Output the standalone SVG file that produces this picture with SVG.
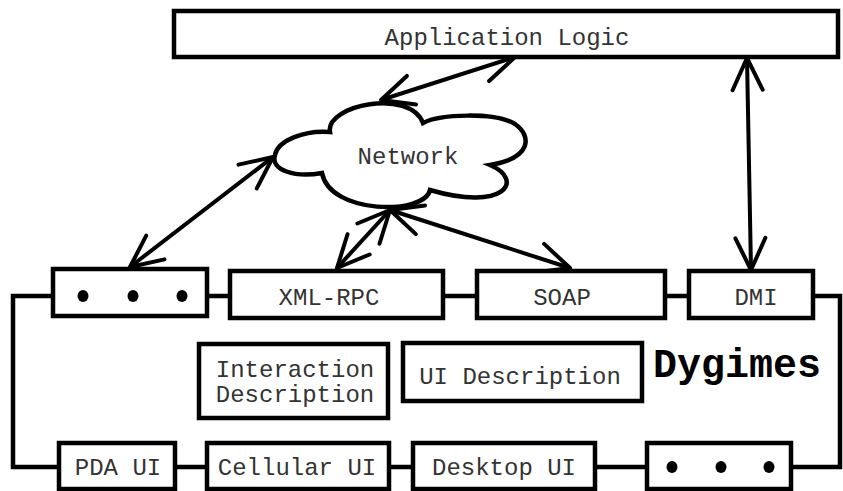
<svg xmlns="http://www.w3.org/2000/svg" width="843" height="491" viewBox="0 0 843 491">
<style>
.box{fill:#fff;stroke:#000;stroke-width:4.5}
.wire{fill:none;stroke:#000;stroke-width:4.5}
.arr{fill:none;stroke:#000;stroke-width:4;marker-start:url(#head);marker-end:url(#head)}
.t{font-family:"Liberation Mono","Courier New",monospace;font-size:24px;fill:#333;text-anchor:middle}
.dot{fill:#000}
</style>
<defs>
<marker id="head" markerUnits="userSpaceOnUse" viewBox="-3 -3 38 36" markerWidth="38" markerHeight="36" refX="32" refY="15" orient="auto-start-reverse" overflow="visible">
<path d="M0,0 L32,15 L0,30" fill="none" stroke="#000" stroke-width="4" stroke-linecap="round" stroke-linejoin="round"/>
</marker>
</defs>
<rect width="843" height="491" fill="#fff"/>
<g id="connectors">
<path class="wire" d="M53,296 H13 V467 H59 M207,296 H230 M443,296 H477 M665,296 H689 M813,296 H840 V467 H791 M175,467 H207 M389,467 H413 M595,467 H647"/>
<line class="arr" x1="515" y1="57" x2="381" y2="100"/>
<line class="arr" x1="273" y1="157" x2="130" y2="267"/>
<line class="arr" x1="390" y1="210" x2="337" y2="268"/>
<line class="arr" x1="390" y1="210" x2="570" y2="268"/>
<line class="arr" x1="747" y1="58" x2="751" y2="270"/>
</g>
<g id="app-logic">
<rect class="box" x="174" y="11" width="664" height="46"/>
<text class="t" x="507" y="45">Application Logic</text>
</g>
<g id="network">
<path class="box" d="M275,155 C278,140 305,130 330,132 C325,105 410,88 423,123 C440,114 495,112 515,124 C532,136 532,158 490,165 C525,180 505,212 430,190 C425,215 330,215 322,173 C295,178 270,170 275,155 Z"/>
<text class="t" x="408" y="164">Network</text>
</g>
<g id="dots-top">
<rect class="box" x="53" y="269" width="154" height="47"/>
<ellipse class="dot" cx="83" cy="296" rx="5.5" ry="6"/>
<ellipse class="dot" cx="133" cy="296" rx="5.5" ry="6"/>
<ellipse class="dot" cx="182" cy="296" rx="5.5" ry="6"/>
</g>
<g id="xml-rpc">
<rect class="box" x="230" y="271" width="213" height="47"/>
<text class="t" x="329" y="305">XML-RPC</text>
</g>
<g id="soap">
<rect class="box" x="477" y="271" width="188" height="47"/>
<text class="t" x="562" y="305">SOAP</text>
</g>
<g id="dmi">
<rect class="box" x="689" y="271" width="124" height="47"/>
<text class="t" x="756" y="305">DMI</text>
</g>
<g id="interaction-description">
<rect class="box" x="199" y="344" width="189" height="74"/>
<text class="t" x="295" y="377">Interaction</text>
<text class="t" x="295" y="402">Description</text>
</g>
<g id="ui-description">
<rect class="box" x="403" y="343" width="239" height="58"/>
<text class="t" x="520" y="384">UI Description</text>
</g>
<g id="dygimes">
<text x="653" y="377" font-family="'Liberation Mono','Courier New',monospace" font-size="40" font-weight="bold" fill="#000">Dygimes</text>
</g>
<g id="pda-ui">
<rect class="box" x="59" y="443" width="116" height="46"/>
<text class="t" x="118" y="475">PDA UI</text>
</g>
<g id="cellular-ui">
<rect class="box" x="207" y="443" width="182" height="46"/>
<text class="t" x="297" y="475">Cellular UI</text>
</g>
<g id="desktop-ui">
<rect class="box" x="413" y="443" width="182" height="46"/>
<text class="t" x="504" y="475">Desktop UI</text>
</g>
<g id="dots-bottom">
<rect class="box" x="647" y="443" width="144" height="46"/>
<ellipse class="dot" cx="672" cy="467" rx="5.5" ry="6"/>
<ellipse class="dot" cx="721" cy="467" rx="5.5" ry="6"/>
<ellipse class="dot" cx="769" cy="467" rx="5.5" ry="6"/>
</g>
</svg>
